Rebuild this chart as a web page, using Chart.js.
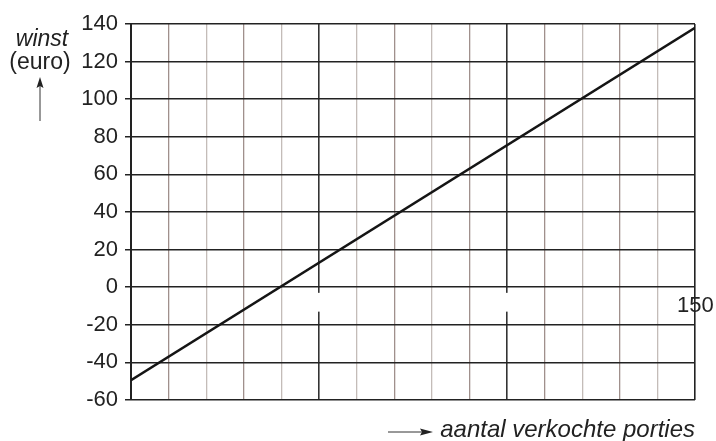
<!DOCTYPE html>
<html>
<head>
<meta charset="utf-8">
<script src="https://cdn.jsdelivr.net/npm/chart.js@4.4.0/dist/chart.umd.min.js"></script>
<style>
  html, body { margin: 0; padding: 0; background: #fff; }
  #wrap { width: 716px; height: 441px; }
</style>
</head>
<body>
<div id="wrap"><canvas id="winstChart"></canvas></div>
<script>
// data
const porties = [0, 150];
const winst = [-49.5, 138];
const yTicks = [-60, -40, -20, 0, 20, 40, 60, 80, 100, 120, 140];
const xLabel150 = '150';

const font = 'Liberation Sans, Arial, sans-serif';

// extra drawing: titles, arrows, the gaps in the 50 / 100 lines, "150"
const extras = {
  id: 'extras',
  afterDatasetsDraw(chart) {
    const ctx = chart.ctx;
    const x = chart.scales.x, y = chart.scales.y;
    ctx.save();
    // gap below zero in the dark lines
    ctx.fillStyle = '#fff';
    [50, 100].forEach(v => {
      const px = x.getPixelForValue(v);
      ctx.fillRect(px - 2, y.getPixelForValue(-3), 4, y.getPixelForValue(-13) - y.getPixelForValue(-3));
    });
    ctx.fillStyle = '#222';
    ctx.font = '22px ' + font;
    ctx.textAlign = 'left';
    ctx.textBaseline = 'middle';
    ctx.fillText(xLabel150, x.getPixelForValue(150) - 18, y.getPixelForValue(0) + 19);

    // y title
    ctx.textAlign = 'center';
    ctx.textBaseline = 'alphabetic';
    ctx.font = 'italic 23px ' + font;
    ctx.fillText('winst', 42, 46);
    ctx.font = '23px ' + font;
    ctx.fillText('(euro)', 40, 69);
    ctx.strokeStyle = '#333';
    ctx.lineWidth = 1;
    ctx.beginPath(); ctx.moveTo(40, 121); ctx.lineTo(40, 84); ctx.stroke();
    ctx.beginPath(); ctx.moveTo(40, 77); ctx.lineTo(36.5, 88); ctx.lineTo(40, 86); ctx.lineTo(43.5, 88); ctx.closePath(); ctx.fill();

    // x title
    ctx.font = 'italic 24px ' + font;
    ctx.textAlign = 'right';
    ctx.fillText('aantal verkochte porties', 695, 437);
    ctx.beginPath(); ctx.moveTo(388, 432); ctx.lineTo(424, 432); ctx.stroke();
    ctx.beginPath(); ctx.moveTo(433, 432); ctx.lineTo(420, 428.5); ctx.lineTo(422, 432); ctx.lineTo(420, 435.5); ctx.closePath(); ctx.fill();
    ctx.restore();
  }
};

function xGridColor(c) {
  const v = c.tick ? c.tick.value : 0;
  if (v === 0 || v === 150) return '#222';
  if (v === 50 || v === 100) return '#333';
  return (v / 10) % 2 === 0 ? '#c4bcb8' : '#a0908c';
}

const myChart = document.getElementById('winstChart').getContext('2d');
const winstChart = new Chart(myChart, {
  type: 'line',
  data: {
    datasets: [{
      label: 'winst',
      data: porties.map((p, i) => ({ x: p, y: winst[i] })),
      borderColor: '#151515',
      borderWidth: 2.5,
      pointRadius: 0,
      fill: false
    }]
  },
  options: {
    responsive: true,
    maintainAspectRatio: false,
    animation: false,
    layout: { padding: { top: 24, right: 21, left: 0, bottom: 0 } },
    plugins: { legend: { display: false }, tooltip: { enabled: false } },
    scales: {
      x: {
        type: 'linear',
        min: 0, max: 150,
        afterFit(scale) { scale.height = 41; },
        afterBuildTicks(scale) {
          const t = [];
          for (let v = 0; v <= 150; v += 10) t.push({ value: v });
          scale.ticks = t;
        },
        ticks: { display: false },
        border: { display: false },
        grid: {
          drawTicks: false,
          color: xGridColor,
          lineWidth: c => (c.tick && (c.tick.value % 50 === 0)) ? 1.6 : 1.3
        }
      },
      y: {
        min: -60, max: 140,
        afterFit(scale) { scale.width = 131; },
        afterBuildTicks(scale) { scale.ticks = yTicks.map(v => ({ value: v })); },
        ticks: { color: '#222', font: { family: font, size: 22 }, padding: 7 },
        border: { display: true, color: '#222', width: 2 },
        grid: { color: '#222', lineWidth: 1.5, tickLength: 6 }
      }
    }
  },
  plugins: [extras]
});
</script>
</body>
</html>
